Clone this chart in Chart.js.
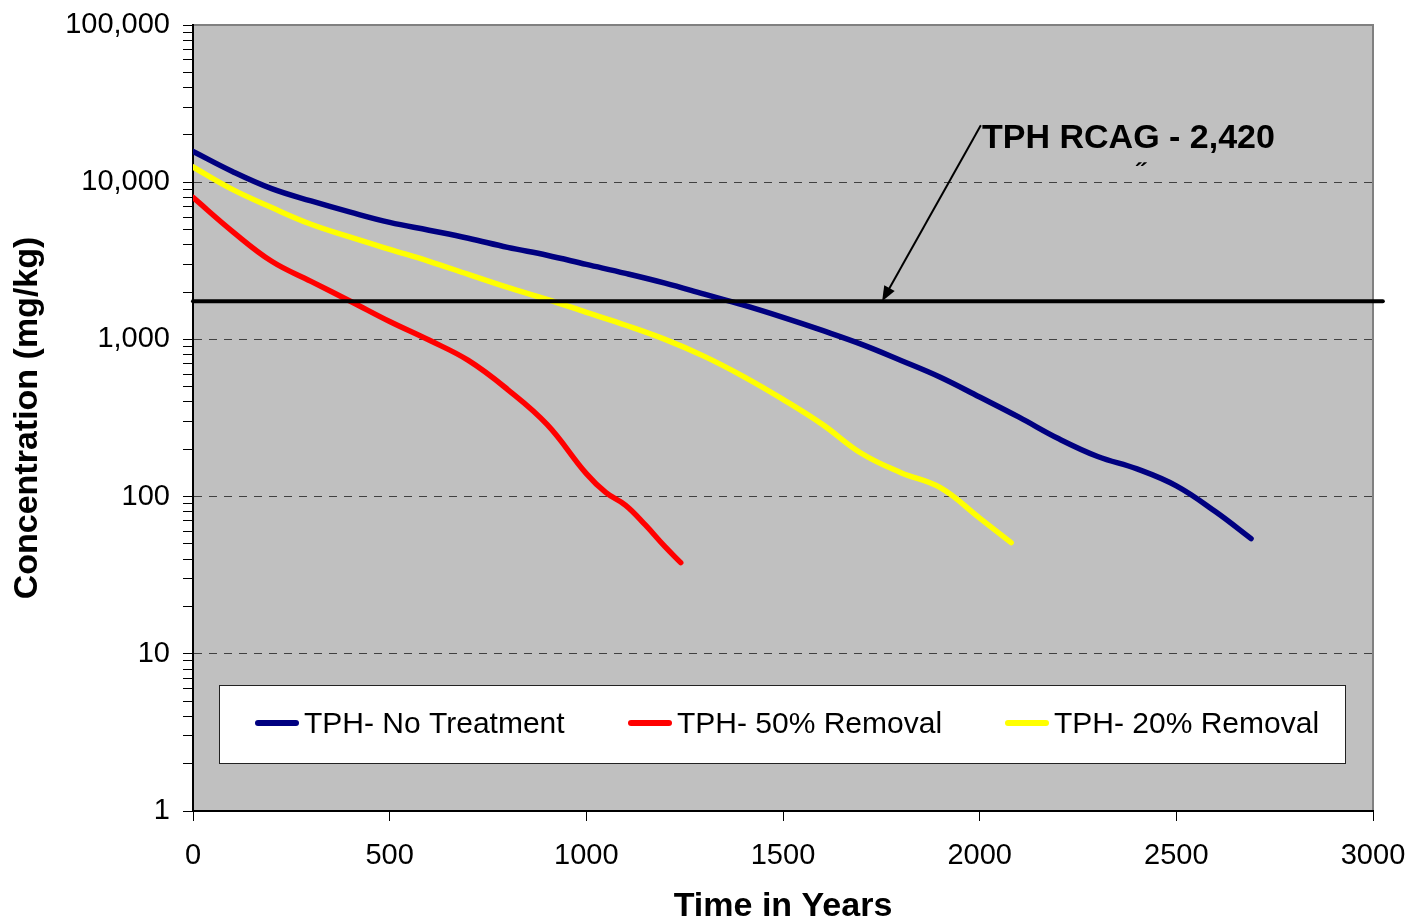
<!DOCTYPE html>
<html lang="en">
<head>
    <meta charset="UTF-8">
    <title>TPH Concentration vs Time</title>
    <script src="https://cdn.jsdelivr.net/npm/chart.js"></script>
    <style>
        body {
            margin: 0;
            padding: 0;
            background: #fff;
        }
        #wrap {
            width: 1414px;
            height: 924px;
        }
    </style>
</head>
<body>
    <div id="wrap">
        <canvas id="chart" width="1414" height="924"></canvas>
    </div>

    <script>
        // Data
        const noTreatYears = [0, 100, 200, 300, 400, 500, 600, 700, 800, 900, 1000, 1100, 1200, 1300, 1400, 1500, 1600, 1700, 1800, 1900, 2000, 2100, 2200, 2300, 2400, 2500, 2600, 2690];
        const noTreatTph = [15700, 11700, 9100, 7600, 6450, 5550, 4950, 4400, 3850, 3430, 3000, 2630, 2280, 1940, 1650, 1380, 1140, 930, 735, 575, 430, 320, 234, 180, 150, 117, 80, 54];

        const removal50Years = [0, 100, 200, 300, 400, 500, 600, 700, 800, 900, 1000, 1050, 1100, 1150, 1200, 1240];
        const removal50Tph = [8000, 4870, 3140, 2340, 1750, 1300, 990, 735, 480, 288, 140, 106, 88, 66, 48, 38];

        const removal20Years = [0, 100, 200, 300, 400, 500, 600, 700, 800, 900, 1000, 1100, 1200, 1300, 1400, 1500, 1600, 1700, 1800, 1900, 2000, 2080];
        const removal20Tph = [12500, 9000, 6900, 5400, 4470, 3740, 3140, 2590, 2140, 1800, 1485, 1230, 1000, 780, 580, 415, 288, 188, 142, 114, 73, 51];

        const rcagYears = [0, 3025];
        const rcagTph = [1750, 1750];

        const seriesLabels = ['TPH- No Treatment', 'TPH- 50% Removal', 'TPH- 20% Removal'];
        const seriesColors = ['#000080', '#ff0000', '#ffff00'];

        const yMajor = [1, 10, 100, 1000, 10000, 100000];
        const xTickStep = 500;

        // annotation anchor (data units)
        const rcagText = 'TPH RCAG - 2,420';
        const rcagTextAt = { x: 2006, y: 18800 };
        const arrowFrom = { x: 2003, y: 23000 };
        const arrowTo = { x: 1752, y: 1750 };
        const markAt = { x: 2400, y: 11300 };

        const FONT = "Arial, 'Liberation Sans', sans-serif";

        // minor ticks 2..9 per decade plus the decades
        const yTickValues = [];
        yMajor.forEach((m, i) => {
            yTickValues.push(m);
            if (i < yMajor.length - 1) {
                for (let k = 2; k <= 9; k++) yTickValues.push(m * k);
            }
        });

        const toPoints = (xs, ys) => xs.map((x, i) => ({ x: x, y: ys[i] }));

        // grey plot area + frame
        const plotBg = {
            id: 'plotBg',
            beforeDraw(chart) {
                const { ctx, chartArea: a } = chart;
                ctx.save();
                ctx.fillStyle = '#c0c0c0';
                ctx.fillRect(a.left, a.top, a.right - a.left, a.bottom - a.top);
                ctx.strokeStyle = '#808080';
                ctx.lineWidth = 2;
                ctx.strokeRect(a.left, a.top, a.right - a.left, a.bottom - a.top);
                ctx.restore();
            }
        };

        // RCAG label with arrow, and the boxed legend
        const extras = {
            id: 'extras',
            afterDraw(chart) {
                const { ctx } = chart;
                const xs = chart.scales.x, ys = chart.scales.y;
                ctx.save();

                // arrow
                const x1 = xs.getPixelForValue(arrowFrom.x), y1 = ys.getPixelForValue(arrowFrom.y);
                const x2 = xs.getPixelForValue(arrowTo.x), y2 = ys.getPixelForValue(arrowTo.y);
                const ang = Math.atan2(y2 - y1, x2 - x1);
                const headLen = 15, headW = 6;
                ctx.strokeStyle = '#000';
                ctx.lineWidth = 2;
                ctx.beginPath();
                ctx.moveTo(x1, y1);
                ctx.lineTo(x2 - Math.cos(ang) * headLen * 0.8, y2 - Math.sin(ang) * headLen * 0.8);
                ctx.stroke();
                ctx.fillStyle = '#000';
                ctx.beginPath();
                ctx.moveTo(x2, y2);
                ctx.lineTo(x2 - Math.cos(ang) * headLen - Math.sin(ang) * headW, y2 - Math.sin(ang) * headLen + Math.cos(ang) * headW);
                ctx.lineTo(x2 - Math.cos(ang) * headLen + Math.sin(ang) * headW, y2 - Math.sin(ang) * headLen - Math.cos(ang) * headW);
                ctx.closePath();
                ctx.fill();

                // label
                ctx.font = 'bold 34px ' + FONT;
                ctx.textBaseline = 'middle';
                ctx.textAlign = 'left';
                ctx.fillText(rcagText, xs.getPixelForValue(rcagTextAt.x), ys.getPixelForValue(rcagTextAt.y));
                ctx.font = 'bold 26px ' + FONT;
                ctx.fillText('\u02DD', xs.getPixelForValue(markAt.x), ys.getPixelForValue(markAt.y));

                // legend box
                const box = { left: 219, top: 685, width: 1126, height: 78 };
                ctx.fillStyle = '#fff';
                ctx.fillRect(box.left, box.top, box.width, box.height);
                ctx.strokeStyle = '#222';
                ctx.lineWidth = 1;
                ctx.strokeRect(box.left + 0.5, box.top + 0.5, box.width, box.height);

                const itemX = [255, 628, 1005];
                const midY = 723;
                ctx.font = '30px ' + FONT;
                ctx.lineCap = 'round';
                seriesLabels.forEach((lbl, i) => {
                    ctx.strokeStyle = seriesColors[i];
                    ctx.lineWidth = 6;
                    ctx.beginPath();
                    ctx.moveTo(itemX[i] + 3, midY);
                    ctx.lineTo(itemX[i] + 41, midY);
                    ctx.stroke();
                    ctx.fillStyle = '#000';
                    ctx.fillText(lbl, itemX[i] + 49, midY + 2);
                });
                ctx.restore();
            }
        };

        const lineStyle = {
            borderWidth: 5.5,
            pointRadius: 0,
            tension: 0.4,
            borderCapStyle: 'round',
            borderJoinStyle: 'round'
        };

        const ctx = document.getElementById('chart').getContext('2d');
        new Chart(ctx, {
            type: 'line',
            data: {
                datasets: [
                    {
                        label: 'TPH RCAG',
                        data: toPoints(rcagYears, rcagTph),
                        borderColor: '#000',
                        borderWidth: 4,
                        pointRadius: 0,
                        borderCapStyle: 'round',
                        clip: false
                    },
                    { label: seriesLabels[0], data: toPoints(noTreatYears, noTreatTph), borderColor: seriesColors[0], ...lineStyle },
                    { label: seriesLabels[1], data: toPoints(removal50Years, removal50Tph), borderColor: seriesColors[1], ...lineStyle },
                    { label: seriesLabels[2], data: toPoints(removal20Years, removal20Tph), borderColor: seriesColors[2], ...lineStyle }
                ]
            },
            options: {
                responsive: false,
                animation: false,
                layout: { padding: { top: 25, right: 41, left: 0, bottom: 0 } },
                plugins: {
                    legend: { display: false },
                    tooltip: { enabled: false }
                },
                scales: {
                    x: {
                        type: 'linear',
                        min: 0,
                        max: 3000,
                        ticks: {
                            stepSize: xTickStep,
                            color: '#000',
                            font: { size: 29, family: FONT },
                            padding: 18,
                            maxRotation: 0,
                            callback: v => String(v)
                        },
                        grid: {
                            drawOnChartArea: false,
                            tickLength: 10,
                            tickColor: '#000',
                            tickWidth: 1
                        },
                        border: { color: '#000', width: 2 },
                        title: {
                            display: true,
                            text: 'Time in Years',
                            color: '#000',
                            font: { size: 34, weight: 'bold', family: FONT, lineHeight: 1 },
                            padding: 0
                        },
                        afterFit: s => {
                            s.height = 113;
                            s.paddingLeft = 0;
                            s.paddingRight = 0;
                        }
                    },
                    y: {
                        type: 'logarithmic',
                        min: 1,
                        max: 100000,
                        afterBuildTicks: s => {
                            s.ticks = yTickValues.map(v => ({ value: v }));
                        },
                        ticks: {
                            autoSkip: false,
                            color: '#000',
                            font: { size: 29, family: FONT },
                            padding: 13,
                            callback: v => yMajor.includes(v) ? v.toLocaleString('en-US') : ''
                        },
                        grid: {
                            color: c => (c.tick && yMajor.includes(c.tick.value) && c.tick.value > 1 && c.tick.value < 100000) ? '#404040' : 'rgba(0,0,0,0)',
                            lineWidth: 1,
                            tickLength: 10,
                            tickColor: '#000',
                            tickWidth: 1
                        },
                        border: { color: '#000', width: 2, dash: [8, 7] },
                        title: {
                            display: true,
                            text: 'Concentration (mg/kg)',
                            color: '#000',
                            font: { size: 34, weight: 'bold', family: FONT, lineHeight: 1 },
                            padding: { top: 11, bottom: 0 }
                        },
                        afterFit: s => {
                            s.width = 193;
                            s.paddingTop = 0;
                            s.paddingBottom = 0;
                        }
                    }
                }
            },
            plugins: [plotBg, extras]
        });
    </script>
</body>
</html>
